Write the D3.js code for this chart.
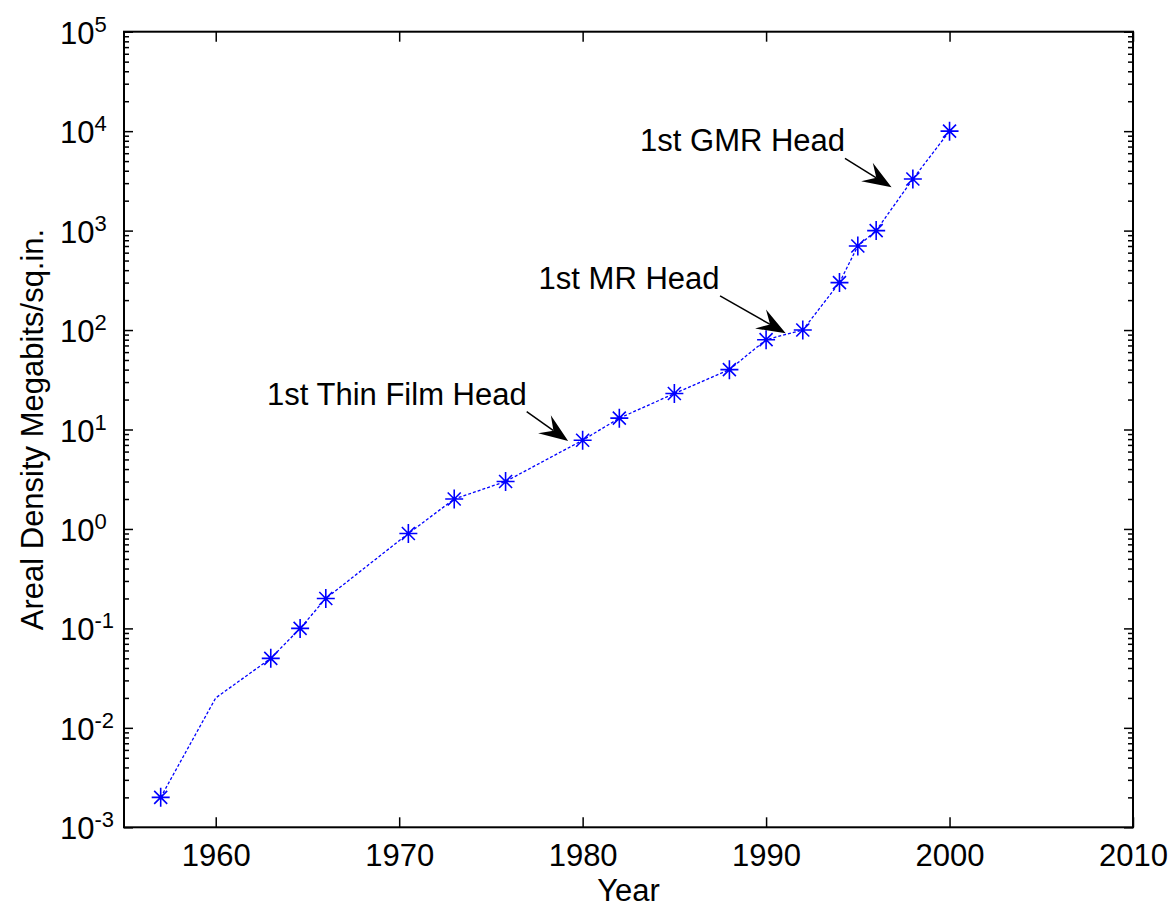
<!DOCTYPE html>
<html>
<head>
<meta charset="utf-8">
<script src="https://cdn.jsdelivr.net/npm/d3@7"></script>
<style>
  body { margin: 0; background: #fff; }
  svg { display: block; font-family: "Liberation Sans", Arial, Helvetica, sans-serif; }
</style>
</head>
<body>
<svg id="chart" width="1172" height="907"></svg>
<script>
// data
let years   = [1957, 1960, 1963, 1964.6, 1966, 1970.5, 1973, 1975.8, 1980, 1982, 1985, 1988, 1990, 1992, 1994, 1995, 1996, 1998, 2000];
let density = [0.002, 0.02, 0.05, 0.1, 0.2, 0.9, 2, 3, 7.8, 13, 23, 40, 80, 100, 300, 700, 1000, 3300, 10000];
let unmarkedYears = [1960];

let xTickLabels = [1960, 1970, 1980, 1990, 2000, 2010];
let yExponents  = [-3, -2, -1, 0, 1, 2, 3, 4, 5];

// annotations (data units)
let noteLabels     = ["1st Thin Film Head", "1st MR Head", "1st GMR Head"];
let noteYears      = [1962.8, 1977.6, 1983.13];
let noteValues     = [17.6, 257, 6360];
let arrowFromYears = [1976.95, 1987.49, 1994.3];
let arrowFromVals  = [15.1, 221, 5335];
let arrowToYears   = [1979.21, 1991.07, 1996.84];
let arrowToVals    = [7.66, 92.7, 2725];

const svg = d3.select("#chart");
const plotL = 124, plotR = 1133, plotT = 31.7, plotB = 827.3;
const fs = 31;

let x = d3.scaleLinear().domain([1955, 2010]).range([plotL, plotR]);
let y = d3.scaleLog().domain([1e-3, 1e5]).range([plotB, plotT]);

let majors = yExponents.map(function(e){ return Math.pow(10, e); });
let minors = [];
for (let e = -3; e < 5; e++) {
    for (let k = 2; k <= 9; k++) minors.push(k * Math.pow(10, e));
}

/* 目盛り */
function tickStyle(g){
    g.select(".domain").remove();
    g.selectAll("line").attr("stroke", "#000").attr("stroke-width", 1.5);
}

// bottom
svg.append("g")
  .attr("transform", "translate(0," + plotB + ")")
  .call(d3.axisBottom(x).tickValues(xTickLabels).tickSizeInner(-10).tickSizeOuter(0).tickFormat(d3.format("d")))
  .call(tickStyle)
  .call(function(g){
      g.selectAll("text")
        .attr("dy", null)
        .attr("y", 39)
        .attr("fill", "#000")
        .style("font-size", fs + "px")
        .style("font-family", "Liberation Sans, Arial, sans-serif");
  });

// top
svg.append("g")
  .attr("transform", "translate(0," + plotT + ")")
  .call(d3.axisTop(x).tickValues(xTickLabels).tickSizeInner(-10).tickSizeOuter(0).tickFormat(""))
  .call(tickStyle);

// left majors with 10^n labels
svg.append("g")
  .attr("transform", "translate(" + plotL + ",0)")
  .call(d3.axisLeft(y).tickValues(majors).tickSizeInner(-9).tickSizeOuter(0).tickFormat(""))
  .call(tickStyle)
  .call(function(g){
      g.selectAll(".tick").each(function(d, i){
          let t = d3.select(this).append("text")
            .attr("x", -64)
            .attr("y", 11.5)
            .attr("text-anchor", "start")
            .attr("fill", "#000")
            .style("font-size", fs + "px")
            .style("font-family", "Liberation Sans, Arial, sans-serif");
          t.append("tspan").text("10");
          t.append("tspan")
            .attr("dy", -12)
            .style("font-size", "22px")
            .text(yExponents[i]);
      });
  });

svg.append("g")
  .attr("transform", "translate(" + plotL + ",0)")
  .call(d3.axisLeft(y).tickValues(minors).tickSizeInner(-5).tickSizeOuter(0).tickFormat(""))
  .call(tickStyle);

// right
svg.append("g")
  .attr("transform", "translate(" + plotR + ",0)")
  .call(d3.axisRight(y).tickValues(majors).tickSizeInner(-9).tickSizeOuter(0).tickFormat(""))
  .call(tickStyle);
svg.append("g")
  .attr("transform", "translate(" + plotR + ",0)")
  .call(d3.axisRight(y).tickValues(minors).tickSizeInner(-5).tickSizeOuter(0).tickFormat(""))
  .call(tickStyle);

// box
svg.append("rect")
  .attr("x", plotL).attr("y", plotT)
  .attr("width", plotR - plotL).attr("height", plotB - plotT)
  .attr("fill", "none").attr("stroke", "#000").attr("stroke-width", 2);

// axis titles
svg.append("text")
  .attr("x", (plotL + plotR) / 2).attr("y", 901)
  .attr("text-anchor", "middle")
  .style("font-size", fs + "px")
  .text("Year");

svg.append("text")
  .attr("transform", "translate(43," + ((plotT + plotB) / 2) + ") rotate(-90)")
  .attr("text-anchor", "middle")
  .style("font-size", fs + "px")
  .text("Areal Density Megabits/sq.in.");

// data line
let line = d3.line()
  .x(function(d){ return x(d[0]); })
  .y(function(d){ return y(d[1]); });

let points = years.map(function(yr, i){ return [yr, density[i]]; });

svg.append("path")
  .datum(points)
  .attr("d", line)
  .attr("fill", "none")
  .attr("stroke", "#0000ff")
  .attr("stroke-width", 1.3)
  .attr("stroke-dasharray", "3,2");

// asterisk markers
let star = "M-9,0H9M0,-9.5V9.5M-6.5,-6.5L6.5,6.5M-6.5,6.5L6.5,-6.5";
svg.append("g")
  .selectAll("path")
  .data(points.filter(function(d){ return unmarkedYears.indexOf(d[0]) < 0; }))
  .enter()
  .append("path")
  .attr("transform", function(d){ return "translate(" + x(d[0]) + "," + y(d[1]) + ")"; })
  .attr("d", star)
  .attr("fill", "none")
  .attr("stroke", "#0000ff")
  .attr("stroke-width", 1.6);

// annotations
for (let i = 0; i < noteLabels.length; i++) {
    svg.append("text")
      .attr("x", x(noteYears[i]))
      .attr("y", y(noteValues[i]))
      .style("font-size", fs + "px")
      .text(noteLabels[i]);

    let x0 = x(arrowFromYears[i]), y0 = y(arrowFromVals[i]);
    let x1 = x(arrowToYears[i]),   y1 = y(arrowToVals[i]);
    let len = Math.hypot(x1 - x0, y1 - y0);
    let ux = (x1 - x0) / len, uy = (y1 - y0) / len;
    let nx = -uy, ny = ux;
    let L = 29, w = 11, notch = 0.62 * L;

    svg.append("line")
      .attr("x1", x0).attr("y1", y0)
      .attr("x2", x1 - notch * ux).attr("y2", y1 - notch * uy)
      .attr("stroke", "#000").attr("stroke-width", 1.5);

    let head = [
        [x1, y1],
        [x1 - L * ux + w * nx, y1 - L * uy + w * ny],
        [x1 - notch * ux, y1 - notch * uy],
        [x1 - L * ux - w * nx, y1 - L * uy - w * ny]
    ];
    svg.append("polygon")
      .attr("points", head.map(function(p){ return p.join(","); }).join(" "))
      .attr("fill", "#000");
}
</script>
</body>
</html>
